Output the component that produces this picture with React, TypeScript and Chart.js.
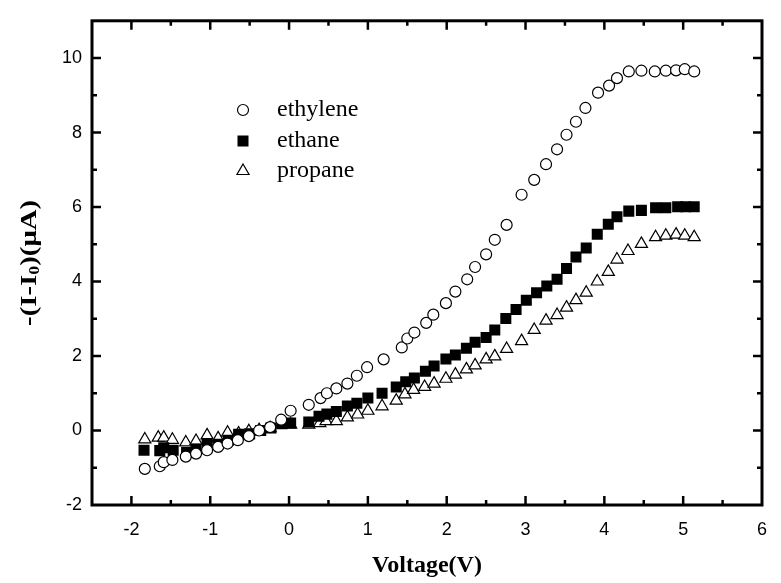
import React, { useEffect, useRef } from "react";
import { Chart, registerables } from "chart.js";

Chart.register(...registerables);

const ethyleneV = [-1.83,-1.64,-1.59,-1.48,-1.31,-1.18,-1.04,-0.90,-0.78,-0.65,-0.51,-0.38,-0.24,-0.10,0.02,0.25,0.40,0.48,0.60,0.74,0.86,0.99,1.20,1.43,1.50,1.59,1.74,1.83,1.99,2.11,2.26,2.36,2.50,2.61,2.76,2.95,3.11,3.26,3.40,3.52,3.64,3.76,3.92,4.06,4.16,4.31,4.47,4.64,4.78,4.91,5.02,5.14];
const ethyleneI = [-1.03,-0.96,-0.85,-0.79,-0.70,-0.62,-0.53,-0.44,-0.35,-0.26,-0.15,0.0,0.09,0.29,0.53,0.69,0.87,1.00,1.13,1.26,1.47,1.70,1.91,2.23,2.47,2.63,2.89,3.11,3.42,3.73,4.06,4.39,4.73,5.12,5.52,6.33,6.73,7.15,7.55,7.94,8.29,8.66,9.07,9.26,9.46,9.64,9.66,9.64,9.66,9.67,9.70,9.64];

const ethaneV = [-1.84,-1.64,-1.59,-1.47,-1.30,-1.18,-1.04,-0.90,-0.77,-0.64,-0.50,-0.36,-0.23,-0.09,0.02,0.25,0.38,0.48,0.60,0.74,0.86,1.00,1.18,1.36,1.48,1.59,1.73,1.84,1.99,2.11,2.25,2.36,2.50,2.61,2.75,2.88,3.01,3.14,3.27,3.40,3.52,3.64,3.77,3.91,4.05,4.16,4.31,4.47,4.65,4.78,4.93,5.03,5.14];
const ethaneI = [-0.53,-0.54,-0.46,-0.53,-0.59,-0.50,-0.35,-0.37,-0.26,-0.10,-0.09,0.0,0.07,0.18,0.20,0.23,0.38,0.44,0.51,0.66,0.73,0.87,1.00,1.17,1.31,1.41,1.59,1.73,1.92,2.03,2.21,2.37,2.50,2.70,3.01,3.25,3.50,3.70,3.88,4.06,4.35,4.66,4.90,5.27,5.54,5.74,5.89,5.91,5.98,5.98,6.01,6.01,6.01];

const propaneV = [-1.83,-1.66,-1.59,-1.48,-1.31,-1.18,-1.04,-0.90,-0.78,-0.64,-0.51,-0.38,-0.24,-0.10,0.02,0.25,0.39,0.47,0.60,0.74,0.87,1.00,1.18,1.36,1.47,1.58,1.72,1.84,1.99,2.11,2.25,2.36,2.50,2.61,2.76,2.95,3.11,3.26,3.40,3.52,3.64,3.77,3.91,4.05,4.16,4.30,4.47,4.65,4.78,4.91,5.02,5.14];
const propaneI = [-0.24,-0.19,-0.19,-0.25,-0.32,-0.28,-0.13,-0.21,-0.06,-0.08,-0.02,0.01,0.06,0.16,0.16,0.16,0.20,0.25,0.25,0.35,0.43,0.53,0.65,0.80,0.97,1.09,1.17,1.26,1.39,1.50,1.64,1.75,1.91,1.99,2.19,2.40,2.70,2.95,3.10,3.30,3.50,3.70,4.00,4.26,4.59,4.82,5.01,5.19,5.23,5.26,5.23,5.19];

const seriesNames = ["ethylene", "ethane", "propane"];
const xMajorTicks = [-2, -1, 0, 1, 2, 3, 4, 5, 6];
const xMinorTicks = [-2.5, -1.5, -0.5, 0.5, 1.5, 2.5, 3.5, 4.5, 5.5];
const yMajorTicks = [-2, 0, 2, 4, 6, 8, 10];
const yMinorTicks = [-1, 1, 3, 5, 7, 9, 11];

const toPts = (xs: number[], ys: number[]) => xs.map((x, i) => ({ x, y: ys[i] }));

const SERIF = "'Liberation Serif', 'Times New Roman', serif";

const framePlugin = {
  id: "frame",
  afterDraw(chart: any) {
    const { ctx, chartArea, scales } = chart;
    const { left, right, top, bottom } = chartArea;
    const xs = scales.x, ys = scales.y;
    ctx.save();
    ctx.strokeStyle = "#000";
    ctx.lineCap = "butt";
    const tickX = (vals: number[], len: number, w: number) => {
      ctx.lineWidth = w;
      ctx.beginPath();
      vals.forEach((v) => {
        const px = xs.getPixelForValue(v);
        if (px > left + 2 && px < right - 2) {
          ctx.moveTo(px, bottom); ctx.lineTo(px, bottom - len);
          ctx.moveTo(px, top); ctx.lineTo(px, top + len);
        }
      });
      ctx.stroke();
    };
    const tickY = (vals: number[], len: number, w: number) => {
      ctx.lineWidth = w;
      ctx.beginPath();
      vals.forEach((v) => {
        const py = ys.getPixelForValue(v);
        if (py > top + 2 && py < bottom - 2) {
          ctx.moveTo(left, py); ctx.lineTo(left + len, py);
          ctx.moveTo(right, py); ctx.lineTo(right - len, py);
        }
      });
      ctx.stroke();
    };
    tickX(xMajorTicks, 9, 2.5);
    tickX(xMinorTicks, 5, 2.5);
    tickY(yMajorTicks, 9, 2.5);
    tickY(yMinorTicks, 5, 2.5);
    ctx.lineWidth = 3;
    ctx.strokeRect(left, top, right - left, bottom - top);

    // legend
    const lx = 243, tx = 277;
    const rows = [110, 141, 171];
    ctx.lineWidth = 1.2;
    ctx.fillStyle = "#fff";
    ctx.beginPath();
    ctx.arc(lx, rows[0], 5.5, 0, Math.PI * 2);
    ctx.fill(); ctx.stroke();
    ctx.fillStyle = "#000";
    ctx.fillRect(lx - 5.5, rows[1] - 5.5, 11, 11);
    ctx.beginPath();
    const r = 7;
    ctx.moveTo(lx, rows[2] - r);
    ctx.lineTo(lx + r * Math.sin(2 * Math.PI / 3), rows[2] + r / 2);
    ctx.lineTo(lx - r * Math.sin(2 * Math.PI / 3), rows[2] + r / 2);
    ctx.closePath();
    ctx.fillStyle = "#fff";
    ctx.fill(); ctx.stroke();
    ctx.fillStyle = "#000";
    ctx.font = "24px " + SERIF;
    ctx.textBaseline = "middle";
    ctx.textAlign = "left";
    seriesNames.forEach((n, i) => ctx.fillText(n, tx, rows[i]));

    // x title
    ctx.font = "bold 24px " + SERIF;
    ctx.textAlign = "center";
    ctx.textBaseline = "middle";
    ctx.fillText("Voltage(V)", (left + right) / 2, 566);

    // y title
    ctx.translate(30, (top + bottom) / 2);
    ctx.rotate(-Math.PI / 2);
    ctx.scale(1.2, 1);
    const big = "bold 24px " + SERIF;
    const small = "bold 15px " + SERIF;
    const parts: [string, string, number][] = [["-(I-I", big, 0], ["0", small, 5], [")(μA)", big, 0]];
    let total = 0;
    parts.forEach(([t, f]) => { ctx.font = f; total += ctx.measureText(t).width; });
    let cx = -total / 2;
    ctx.textAlign = "left";
    parts.forEach(([t, f, dy]) => {
      ctx.font = f;
      ctx.fillText(t, cx, dy);
      cx += ctx.measureText(t).width;
    });
    ctx.restore();
  },
};

export default function App() {
  const ref = useRef<HTMLCanvasElement>(null);
  useEffect(() => {
    document.body.style.margin = "0";
    const tickFont = { family: "'Liberation Sans', Arial, sans-serif", size: 18 };
    const chart = new Chart(ref.current!, {
      type: "scatter",
      data: {
        datasets: [
          { label: seriesNames[0], data: toPts(ethyleneV, ethyleneI), pointStyle: "circle", pointRadius: 5.5, borderColor: "#000", backgroundColor: "#fff", borderWidth: 1.2 },
          { label: seriesNames[1], data: toPts(ethaneV, ethaneI), pointStyle: "rect", pointRadius: 7.8, borderColor: "#000", backgroundColor: "#000", borderWidth: 0 },
          { label: seriesNames[2], data: toPts(propaneV, propaneI), pointStyle: "triangle", pointRadius: 7, borderColor: "#000", backgroundColor: "#fff", borderWidth: 1.2 },
        ],
      },
      options: {
        animation: false,
        responsive: false,
        layout: { padding: { left: 0, right: 7, top: 12, bottom: 0 } },
        plugins: { legend: { display: false }, tooltip: { enabled: false } },
        scales: {
          x: {
            type: "linear", min: -2.5, max: 6,
            grid: { display: false, drawTicks: false }, border: { display: false },
            ticks: { stepSize: 1, includeBounds: false, color: "#000", font: tickFont, padding: 14, maxRotation: 0 },
            afterFit: (s: any) => { s.height = 78; },
          },
          y: {
            type: "linear", min: -2, max: 11,
            grid: { display: false, drawTicks: false }, border: { display: false },
            ticks: { stepSize: 2, includeBounds: false, color: "#000", font: tickFont, padding: 10 },
            afterFit: (s: any) => { s.width = 92; },
          },
        },
      },
      plugins: [framePlugin],
    } as any);
    return () => chart.destroy();
  }, []);
  return (
    <div style={{ position: "absolute", left: 0, top: 0, width: 781, height: 583, background: "#fff" }}>
      <canvas ref={ref} width={781} height={583} style={{ width: 781, height: 583 }} />
    </div>
  );
}
